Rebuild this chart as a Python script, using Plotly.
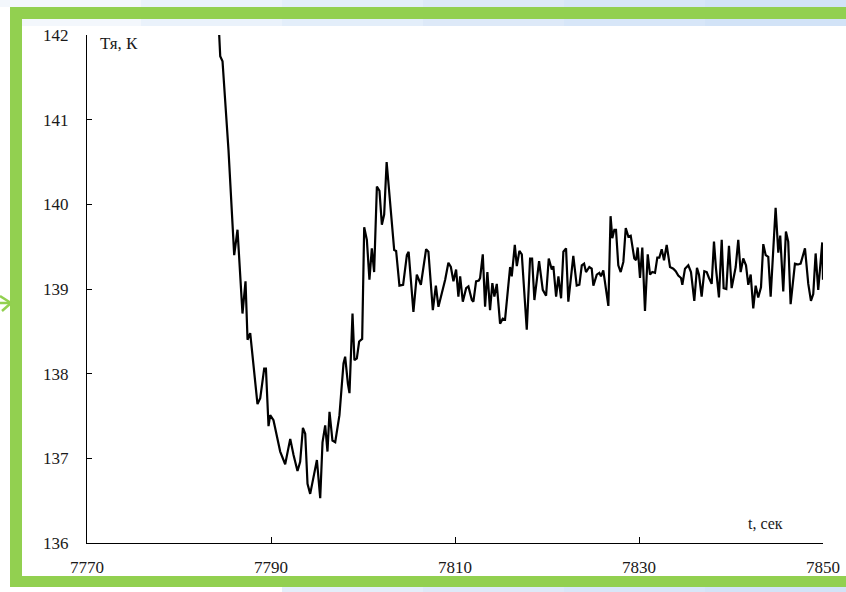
import plotly.graph_objects as go

# time, s
t_sec = [
    7784.37, 7784.48, 7784.73, 7785.21, 7785.38, 7786.00, 7786.36, 7786.90, 7787.23, 7787.45,
    7787.74, 7788.53, 7788.83, 7789.26, 7789.45, 7789.73, 7789.91, 7790.27, 7791.00, 7791.54,
    7792.09, 7792.45, 7792.88, 7793.17, 7793.47, 7793.72, 7793.97, 7794.26, 7794.62, 7794.99,
    7795.35, 7795.60, 7795.89, 7796.14, 7796.36, 7796.68, 7796.98, 7797.44, 7797.88, 7798.06,
    7798.36, 7798.53, 7798.86, 7799.07, 7799.33, 7799.58, 7799.91, 7800.13, 7800.42, 7800.70,
    7800.96, 7801.21, 7801.51, 7801.79, 7802.05, 7802.30, 7802.57, 7802.95, 7803.39, 7803.60,
    7803.96, 7804.36, 7804.77, 7804.96, 7805.48, 7805.85, 7806.29, 7806.86, 7807.11, 7807.59,
    7807.92, 7808.20, 7808.93, 7809.28, 7809.55, 7809.83, 7810.12, 7810.37, 7810.56, 7810.85,
    7811.21, 7811.46, 7811.83, 7812.00, 7812.29, 7812.59, 7812.73, 7813.02, 7813.27, 7813.52,
    7813.81, 7814.06, 7814.28, 7814.54, 7814.90, 7815.19, 7815.44, 7815.99, 7816.17, 7816.50,
    7816.72, 7817.00, 7817.26, 7817.80, 7818.16, 7818.38, 7818.63, 7819.14, 7819.54, 7819.90,
    7820.19, 7820.52, 7820.69, 7820.99, 7821.24, 7821.53, 7821.78, 7822.07, 7822.32, 7822.86,
    7823.23, 7823.52, 7823.78, 7824.03, 7824.24, 7824.60, 7824.86, 7825.04, 7825.41, 7825.69,
    7825.87, 7826.12, 7826.67, 7826.91, 7827.10, 7827.32, 7827.50, 7827.75, 7828.01, 7828.30,
    7828.56, 7828.84, 7829.10, 7829.49, 7829.68, 7829.86, 7830.11, 7830.36, 7830.65, 7830.95,
    7831.20, 7831.45, 7831.74, 7831.99, 7832.21, 7832.47, 7832.72, 7833.01, 7833.37, 7833.73,
    7833.99, 7834.27, 7834.57, 7834.71, 7835.00, 7835.36, 7835.65, 7836.01, 7836.30, 7836.52,
    7836.81, 7837.10, 7837.36, 7837.61, 7837.90, 7838.15, 7838.37, 7838.69, 7838.99, 7839.20,
    7839.49, 7839.78, 7840.07, 7840.51, 7840.79, 7841.05, 7841.33, 7841.63, 7841.88, 7842.14,
    7842.42, 7842.68, 7842.96, 7843.26, 7843.51, 7843.77, 7844.05, 7844.31, 7844.85, 7845.14,
    7845.35, 7845.68, 7845.97, 7846.22, 7846.48, 7846.95, 7847.31, 7847.57, 7848.04, 7848.40,
    7848.69, 7848.94, 7849.20, 7849.48, 7849.74, 7849.92, 7850.00,
]

# temperature, K
temp_k = [
    142.00, 141.75, 141.69, 140.88, 140.64, 139.40, 139.70, 138.71, 139.09, 138.40,
    138.48, 137.64, 137.71, 138.06, 138.06, 137.38, 137.51, 137.45, 137.08, 136.93,
    137.23, 137.04, 136.85, 136.96, 137.36, 137.29, 136.70, 136.58, 136.80, 136.98,
    136.53, 137.19, 137.39, 137.08, 137.55, 137.21, 137.19, 137.51, 138.12, 138.20,
    137.88, 137.77, 138.71, 138.16, 138.18, 138.38, 138.41, 139.73, 139.58, 139.11,
    139.48, 139.20, 140.21, 140.16, 139.76, 139.88, 140.50, 140.01, 139.46, 139.45,
    139.04, 139.05, 139.40, 139.44, 138.73, 139.17, 139.05, 139.47, 139.44, 138.75,
    139.04, 138.79, 139.11, 139.31, 139.26, 139.09, 139.23, 138.91, 139.15, 138.85,
    139.01, 139.03, 138.87, 138.85, 139.09, 139.10, 139.13, 139.41, 138.79, 139.20,
    138.75, 139.07, 138.91, 139.06, 138.59, 138.65, 138.64, 139.26, 139.15, 139.52,
    139.27, 139.45, 139.41, 138.52, 139.36, 139.36, 138.87, 139.33, 138.99, 138.92,
    139.36, 139.23, 139.27, 138.91, 139.15, 138.89, 139.44, 139.48, 138.85, 139.39,
    139.04, 139.05, 139.28, 139.30, 139.20, 139.26, 139.24, 139.04, 139.17, 139.19,
    139.15, 139.22, 138.80, 139.86, 139.60, 139.70, 139.70, 139.28, 139.20, 139.32,
    139.72, 139.62, 139.63, 139.36, 139.34, 139.49, 139.13, 139.49, 138.74, 139.41,
    139.17, 139.20, 139.19, 139.37, 139.37, 139.47, 139.34, 139.52, 139.26, 139.24,
    139.21, 139.16, 139.13, 139.05, 139.24, 139.28, 139.20, 138.86, 139.25, 139.17,
    138.91, 139.21, 139.20, 139.13, 139.06, 139.56, 139.24, 138.90, 139.58, 139.01,
    139.00, 139.51, 139.01, 139.26, 139.58, 139.20, 139.36, 139.28, 139.05, 139.17,
    138.77, 139.04, 138.90, 139.02, 139.53, 139.40, 139.38, 138.91, 139.96, 139.43,
    139.63, 138.97, 139.68, 139.56, 138.82, 139.30, 139.29, 139.30, 139.48, 139.06,
    138.86, 138.94, 139.42, 138.99, 139.34, 139.55, 139.11,
]

x_ticks = [7770, 7790, 7810, 7830, 7850]
y_ticks = [136, 137, 138, 139, 140, 141, 142]
y_label = "Тя, К"
x_label = "t, сек"

W, H = 846, 592
ML, MR, MT, MB = 87, 23, 35, 49
PW, PH = W - ML - MR, H - MT - MB
SERIF = "Liberation Serif"
GREEN = "#92d050"


def px(x):
    return (x - ML) / PW


def py(y):
    return (H - MB - y) / PH


def prect(x0, y0, x1, y1, color, layer="above"):
    return dict(type="rect", xref="paper", yref="paper",
                x0=px(x0), x1=px(x1), y0=py(y1), y1=py(y0),
                line=dict(width=0), fillcolor=color, layer=layer)


fig = go.Figure()
fig.add_trace(go.Scatter(
    x=t_sec, y=temp_k, mode="lines",
    line=dict(color="#000000", width=2.2),
    hoverinfo="skip", showlegend=False, cliponaxis=True,
))

shapes = []
# light blue slide background strips (gradient-like)
blues = ["#f3f7fc", "#eaf2fb", "#e3eefa", "#dde9f8", "#d7e6f8", "#d2e3f7"]
nseg = len(blues)
for i, c in enumerate(blues):
    xa = i * W / nseg
    xb = (i + 1) * W / nseg + 1
    shapes.append(prect(xa, 0, xb, 7, c, "below"))
    shapes.append(prect(max(xa, 22), 19, xb, 26, c, "below"))
    if i >= 2:
        shapes.append(prect(xa, 587, xb, 592, c, "below"))
# green frame (top, left, bottom bands)
shapes.append(prect(10, 7, W + 2, 19, GREEN))
shapes.append(prect(10, 7, 22, 587, GREEN))
shapes.append(prect(10, 576, W + 2, 587, GREEN))
# small green arrow decoration on the left edge
for (x0, y0) in [(0, 296), (0, 303), (2, 311)]:
    shapes.append(dict(type="line", xref="paper", yref="paper",
                       x0=px(x0), y0=py(y0), x1=px(11), y1=py(303),
                       line=dict(color=GREEN, width=2.5)))

fig.update_layout(
    width=W, height=H, autosize=False,
    margin=dict(l=ML, r=MR, t=MT, b=MB, pad=0, autoexpand=False),
    paper_bgcolor="#ffffff", plot_bgcolor="#ffffff",
    font=dict(family=SERIF, size=17, color="#1a1a1a"),
    shapes=shapes,
    showlegend=False,
    xaxis=dict(
        range=[7770, 7850], tickvals=x_ticks, ticktext=[str(v) for v in x_ticks],
        showgrid=False, zeroline=False, showline=True, linecolor="#000000", linewidth=1.3,
        ticks="inside", ticklen=6, tickwidth=1.2, tickcolor="#000000",
        ticklabelstandoff=8, mirror=False, automargin=False,
        tickfont=dict(family=SERIF, size=17, color="#1a1a1a"),
    ),
    yaxis=dict(
        range=[136, 142], tickvals=y_ticks, ticktext=[str(v) for v in y_ticks],
        showgrid=False, zeroline=False, showline=True, linecolor="#000000", linewidth=1.3,
        ticks="inside", ticklen=5, tickwidth=1.2, tickcolor="#000000",
        ticklabelstandoff=14, mirror=False, automargin=False,
        tickfont=dict(family=SERIF, size=17, color="#1a1a1a"),
    ),
    annotations=[
        dict(text=y_label, xref="paper", yref="paper", x=px(98), y=py(44),
             xanchor="left", yanchor="middle", showarrow=False,
             font=dict(family=SERIF, size=17, color="#1a1a1a")),
        dict(text=x_label, xref="paper", yref="paper", x=px(746), y=py(523),
             xanchor="left", yanchor="middle", showarrow=False,
             font=dict(family=SERIF, size=16, color="#1a1a1a")),
    ],
)

fig.write_html(
    "out.html",
    config={"displayModeBar": False},
    post_script="document.body.style.margin='0';document.body.style.overflow='hidden';",
)
